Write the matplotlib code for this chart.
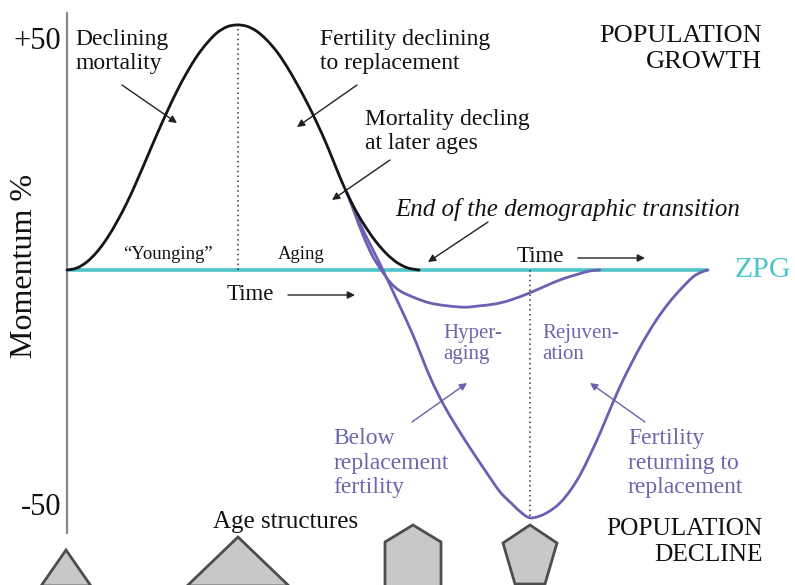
import matplotlib
matplotlib.use('Agg')
import matplotlib.pyplot as plt
import matplotlib.transforms as mtransforms
from matplotlib.patches import Polygon, PathPatch
from matplotlib.path import Path

plt.rcParams['font.family'] = ['Liberation Serif', 'DejaVu Serif']

# ---------------- data (time units, momentum %) ----------------
growth_t = [0, 1, 2, 3, 4, 5, 6, 7, 8, 9, 10, 11, 12, 13, 14, 15, 16, 17,
            18, 19, 20, 21, 22, 23, 24, 25, 26, 27, 28, 29, 30, 31, 32, 33, 34, 35, 35.2]
growth_y = [0, 0.44, 1.76, 3.9, 6.8, 10.4, 14.5, 19.2, 24.2, 29.2, 34.0, 38.5, 42.5, 46.0,
            48.8, 51.0, 52.3, 52.7,
            52.4, 51.3, 49.4, 46.9, 43.7, 40.0, 36.0, 31.6, 26.8, 21.5, 16.5, 12.3, 8.8,
            5.8, 3.4, 1.6, 0.5, 0.05, 0]

decline_t = [28.0, 28.9, 29.8, 31.3, 33.0, 34.6, 36.3, 37.8, 39.8, 42.0, 43.3, 44.5, 45.5,
             46.3, 47.3, 48.3, 49.3, 50.3, 51.3, 52.3, 53.3, 54.5, 55.6, 57.3, 58.8, 60.1,
             61.3, 62.6, 63.5, 64.1]
decline_y = [16.6, 12.0, 7.7, 1.3, -6.5, -14.0, -23.0, -29.5, -36.6, -43.7, -47.7, -50.3,
             -52.3, -53.3, -52.9, -51.8, -50.1, -47.5, -44.1, -39.8, -35.1, -29.0, -23.7,
             -16.6, -11.2, -7.3, -4.3, -1.5, -0.4, 0]

shallow_t = [28.0, 28.8, 29.6, 30.5, 31.3, 32.3, 33.3, 34.8, 36.3, 38.0, 39.8, 41.3, 42.8,
             44.3, 46.3, 48.1, 49.6, 51.1, 52.3, 53.3]
shallow_y = [16.6, 12.0, 7.5, 3.2, 0.4, -2.6, -4.5, -6.0, -7.1, -7.7, -8.0, -7.7, -7.3,
             -6.5, -4.9, -3.2, -1.9, -0.9, -0.2, 0]

peak_t, peak_y = 17.1, 52.7
trough_t, trough_y = 46.3, -53.3
zpg_t = [0, 64.1]
zpg_y = [0, 0]
axis_span = [55.3, -56.6]
y_ticks = [50, -50]
y_tick_labels = ['+50', '-50']

BLACK = '#151515'
PURPLE = '#6b61b3'
PURPLE_TXT = '#6c66ad'
TEAL = '#4dc4c8'
GREY = '#8a8a8a'

fig = plt.figure(figsize=(7.95, 5.85), dpi=100)
ax = fig.add_axes([0, 0, 1, 1])
ax.set_xlim(-6.7, 72.8)
ax.set_ylim(-67.74, 58.06)
ax.axis('off')

# pixel transform (origin top-left) for layout items
pix = mtransforms.Affine2D().scale(1 / 795, -1 / 585).translate(0, 1) + fig.transFigure


def smooth_curve(xs, ys, **kw):
    """Draw a smooth (Catmull-Rom style Bezier) path through the given data points."""
    pts = list(zip(xs, ys))
    n = len(pts)
    verts = [pts[0]]
    codes = [Path.MOVETO]
    for i in range(n - 1):
        p0 = pts[i - 1] if i > 0 else pts[i]
        p1 = pts[i]
        p2 = pts[i + 1]
        p3 = pts[i + 2] if i + 2 < n else pts[i + 1]
        c1 = (p1[0] + (p2[0] - p0[0]) / 6, p1[1] + (p2[1] - p0[1]) / 6)
        c2 = (p2[0] - (p3[0] - p1[0]) / 6, p2[1] - (p3[1] - p1[1]) / 6)
        verts += [c1, c2, p2]
        codes += [Path.CURVE4] * 3
    patch = PathPatch(Path(verts, codes), fill=False, transform=ax.transData,
                      capstyle='round', joinstyle='round', **kw)
    ax.add_patch(patch)


# axis line and tick labels
ax.plot([0, 0], axis_span, color=GREY, lw=1.6, zorder=1)
shift = mtransforms.ScaledTranslation(0, -4.5 / 100, fig.dpi_scale_trans)
for v, lab in zip(y_ticks, y_tick_labels):
    ax.text(-0.55, v, lab, ha='right', va='center', fontsize=22, color='#111',
            transform=ax.transData + shift)
ax.text(25, 266, 'Momentum %', transform=pix, rotation=90, ha='center', va='center',
        fontsize=23, color='#111')

# ZPG line
ax.plot(zpg_t, zpg_y, color=TEAL, lw=2.6, zorder=2, solid_capstyle='butt')

# dotted verticals
ax.plot([peak_t, peak_t], [0, peak_y], color='#333', lw=1.1, ls=(0, (1, 2.2)), zorder=2)
ax.plot([trough_t, trough_t], [0, trough_y], color='#333', lw=1.1, ls=(0, (1, 2.2)), zorder=2)

# curves
smooth_curve(decline_t, decline_y, edgecolor=PURPLE, lw=2, zorder=3)
smooth_curve(shallow_t, shallow_y, edgecolor=PURPLE, lw=2, zorder=3)
smooth_curve(growth_t, growth_y, edgecolor=BLACK, lw=2, zorder=4)

# texts (pixel layout)
def T(x, y, s, **kw):
    kw.setdefault('fontsize', 17)
    kw.setdefault('color', '#111')
    kw.setdefault('va', 'top')
    kw.setdefault('linespacing', 1.19)
    ax.text(x, y, s, transform=pix, **kw)

T(75, 29, 'Declining\nmortality')
T(320, 29, 'Fertility declining\nto replacement')
T(365, 109, 'Mortality decling\nat later ages')
T(762, 25, 'POPULATION\nGROWTH', ha='right', fontsize=19, multialignment='right',
  linespacing=1.22)
T(395, 198, 'End of the demographic transition', style='italic', fontsize=18)
T(123, 246, '\u201cYounging\u201d', fontsize=13.5)
T(278, 246, 'Aging', fontsize=13.5)
T(227, 284, 'Time', fontsize=16.5)
T(517, 246, 'Time', fontsize=16.5)
T(735, 257, 'ZPG', fontsize=21.5, color=TEAL)
T(443, 324, 'Hyper-\naging', fontsize=15, color=PURPLE_TXT, linespacing=1.12)
T(542, 324, 'Rejuven-\nation', fontsize=15, color=PURPLE_TXT, linespacing=1.12)
T(333, 428, 'Below\nreplacement\nfertility', color=PURPLE_TXT, linespacing=1.22)
T(628, 428, 'Fertility\nreturning to\nreplacement', color=PURPLE_TXT, linespacing=1.22)
T(213, 511, 'Age structures', fontsize=18)
T(763, 518, 'POPULATION\nDECLINE', ha='right', fontsize=18.3, multialignment='right',
  linespacing=1.22)

# arrows
def A(x0, y0, x1, y1, color='#222'):
    ax.annotate('', xy=(x1, y1), xycoords=pix, xytext=(x0, y0), textcoords=pix,
                arrowprops=dict(arrowstyle='-|>', color=color, lw=1.0,
                                mutation_scale=11, shrinkA=0, shrinkB=0))

A(122, 85, 177, 123)
A(357, 85, 297, 127)
A(390, 160, 332, 200)
A(488, 222, 428, 262)
A(288, 295, 355, 295)
A(578, 258, 645, 258)
A(412, 422, 467, 383, color=PURPLE)
A(645, 422, 590, 383, color=PURPLE)

# age structure shapes
shapes = [
    [(66, 550), (91, 586), (41, 586)],
    [(238, 537), (289, 586), (187, 586)],
    [(413, 525), (441, 542), (441, 600), (385, 600), (385, 542)],
    [(530, 525), (557, 543), (545, 584), (515, 584), (503, 543)],
]
for pts in shapes:
    ax.add_patch(Polygon(pts, closed=True, transform=pix, facecolor='#c8c8c8',
                         edgecolor='#4d4d4d', lw=2, clip_on=False, joinstyle='miter'))

fig.savefig('out.png', dpi=100)
